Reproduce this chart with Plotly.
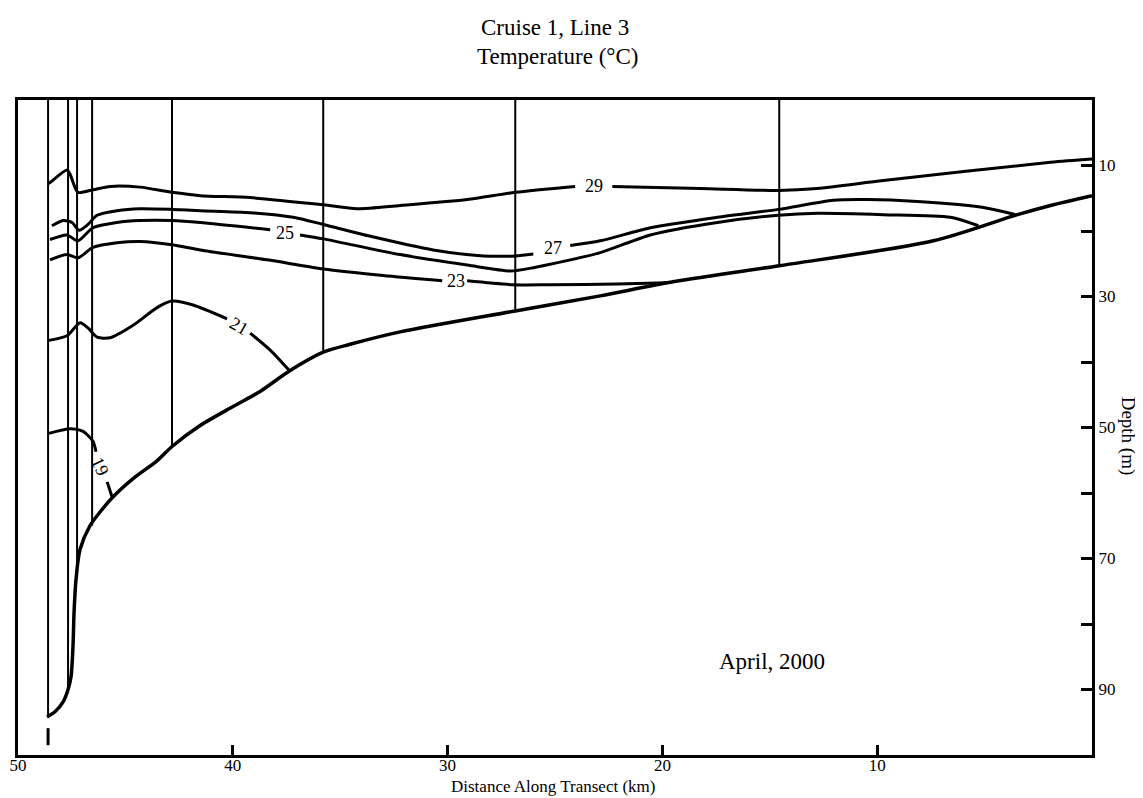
import plotly.graph_objects as go

# ---- data (km along transect, depth in m) ----
station_km = [48.60, 47.67, 47.25, 46.55, 42.83, 35.79, 26.85, 14.56]
station_bottom_m = [94.2, 90.0, 73.0, 65.0, 52.9, 38.5, 32.2, 25.3]

stub_km = [48.60, 48.60]
stub_m = [95.9, 98.5]

bottom_km = [48.65, 48.28, 47.90, 47.67, 47.53, 47.44, 47.39, 47.30, 47.11, 46.65,
             46.18, 45.58, 44.64, 43.53, 42.83, 41.52, 39.99, 38.73, 37.33, 35.79,
             34.54, 32.21, 26.85, 22.89, 19.77, 14.56, 7.38, 3.47, 1.93, 0.0]
bottom_m = [94.2, 93.4, 91.9, 90.0, 88.0, 83.4, 78.2, 73.2, 68.6, 65.0,
            62.9, 60.6, 57.8, 55.1, 52.9, 49.7, 46.8, 44.5, 41.3, 38.5,
            37.3, 35.4, 32.2, 29.9, 27.9, 25.3, 21.5, 17.5, 16.1, 14.6]

iso29_km = [48.60, 48.51, 47.72, 47.58, 47.21, 46.51, 45.71, 44.32, 42.83, 41.52, 39.19,
            35.79, 34.21, 32.21, 29.09, 26.85, 24.06, None,
            22.33, 18.23, 14.60, 12.79, 9.71, 1.93, 0.0]
iso29_m = [12.8, 12.6, 10.7, 11.3, 14.1, 13.7, 13.2, 13.3, 14.1, 14.6, 14.9,
           16.0, 16.6, 16.1, 15.2, 14.1, 13.2, None,
           13.2, 13.5, 13.8, 13.5, 12.3, 9.5, 9.0]

iso27_km = [48.42, 47.90, 47.48, 47.16, 46.74, 46.32, 45.39, 44.32, 42.83, 41.52, 39.19,
            37.19, 35.79, 33.74, 30.67, 28.34, 26.85, 26.01, None,
            24.29, 22.89, 20.56, 17.44, 14.60, 12.04, 10.46, 8.13, 5.05, 3.56]
iso27_m = [19.2, 18.4, 18.7, 19.9, 19.0, 17.6, 16.9, 16.6, 16.7, 16.9, 17.2,
           17.9, 19.0, 20.7, 22.9, 23.8, 23.8, 23.5, None,
           22.2, 21.5, 19.5, 17.9, 16.7, 15.3, 15.2, 15.5, 16.4, 17.5]

iso25_km = [48.51, 47.72, 47.21, 46.51, 45.39, 44.32, 42.83, 41.52, 38.26, None,
            36.87, 35.79, 32.21, 29.09, 27.08, 26.01, 22.89, 20.56, 17.44, 14.60,
            12.79, 9.71, 6.59, 5.29]
iso25_m = [21.3, 20.6, 21.5, 19.5, 18.7, 18.4, 18.4, 18.7, 19.8, None,
           20.6, 21.2, 23.6, 25.2, 26.1, 25.6, 23.3, 20.6, 18.7, 17.6,
           17.3, 17.5, 17.9, 19.2]

iso23_km = [48.51, 47.72, 47.21, 46.51, 45.39, 44.32, 42.83, 41.52, 38.40, 35.79,
            33.00, 30.25, None, 29.09, 26.94, 25.22, 22.10, 19.77]
iso23_m = [24.4, 23.6, 24.1, 22.5, 21.8, 21.6, 22.1, 22.9, 24.4, 25.8,
           26.8, 27.6, None, 27.6, 28.2, 28.2, 28.1, 27.9]

iso21_km = [48.56, 47.72, 47.11, 46.74, 46.32, 45.71, 44.64, 43.53, 42.83, 41.85,
            40.27, None, 39.19, 38.26, 37.40]
iso21_m = [36.7, 36.0, 34.0, 34.8, 36.2, 36.3, 34.4, 31.7, 30.7, 31.3,
           33.4, None, 35.6, 38.2, 41.2]

iso19_km = [48.56, 47.58, 46.97, 46.51, 46.37, None, 45.85, 45.62]
iso19_m = [50.9, 50.2, 50.6, 52.1, 53.7, None, 58.3, 60.6]

label_text = ["29", "27", "25", "23", "21", "19"]
label_km = [23.20, 25.10, 37.56, 29.62, 39.72, 46.16]
label_m = [13.2, 22.6, 20.3, 27.6, 34.5, 56.0]
label_angle = [0, 0, 0, 0, 30, 65]

x_ticks = [50, 40, 30, 20, 10]
y_ticks = [10, 20, 30, 40, 50, 60, 70, 80, 90]
y_ticktext = ["10", "", "30", "", "50", "", "70", "", "90"]

FONT = "Liberation Serif"

fig = go.Figure()

# station lines
for km, bm in zip(station_km, station_bottom_m):
    fig.add_trace(go.Scatter(x=[km, km], y=[0, bm], mode="lines",
                             line=dict(color="black", width=2), showlegend=False,
                             hoverinfo="skip"))
fig.add_trace(go.Scatter(x=stub_km, y=stub_m, mode="lines",
                         line=dict(color="black", width=3), showlegend=False))

# bottom profile
fig.add_trace(go.Scatter(x=bottom_km, y=bottom_m, mode="lines",
                         line=dict(color="black", width=3.5, shape="spline", smoothing=0.8),
                         showlegend=False))

for xs, ys in [(iso29_km, iso29_m), (iso27_km, iso27_m), (iso25_km, iso25_m),
               (iso23_km, iso23_m), (iso21_km, iso21_m), (iso19_km, iso19_m)]:
    fig.add_trace(go.Scatter(x=xs, y=ys, mode="lines", connectgaps=False,
                             line=dict(color="black", width=3, shape="spline", smoothing=0.7),
                             showlegend=False))

for t, xk, ym, ang in zip(label_text, label_km, label_m, label_angle):
    fig.add_annotation(x=xk, y=ym, text=t, showarrow=False, textangle=ang,
                       font=dict(family=FONT, size=18, color="black"),
                       xanchor="center", yanchor="middle")

fig.add_annotation(x=14.88, y=85.7, text="April, 2000", showarrow=False,
                   font=dict(family=FONT, size=23, color="black"),
                   xanchor="center", yanchor="middle")

# titles
fig.add_annotation(x=0.5, y=1.111, xref="paper", yref="paper", text="Cruise 1, Line 3",
                   showarrow=False, font=dict(family=FONT, size=23, color="black"),
                   xanchor="center", yanchor="middle")
fig.add_annotation(x=0.502, y=1.067, xref="paper", yref="paper", text="Temperature (°C)",
                   showarrow=False, font=dict(family=FONT, size=23, color="black"),
                   xanchor="center", yanchor="middle")
# axis titles
fig.add_annotation(x=0.498, y=0, xref="paper", yref="paper", yshift=-31,
                   text="Distance Along Transect (km)", showarrow=False,
                   font=dict(family=FONT, size=17, color="black"),
                   xanchor="center", yanchor="middle")
fig.add_annotation(x=1.0335, y=0.486, xref="paper", yref="paper",
                   text="Depth (m)", showarrow=False, textangle=90,
                   font=dict(family=FONT, size=19, color="black"),
                   xanchor="center", yanchor="middle")

fig.update_xaxes(range=[50, 0], tickvals=x_ticks, ticks="inside", ticklen=10,
                 tickwidth=2.5, tickcolor="black", showline=True, linewidth=3,
                 linecolor="black", mirror=True, showgrid=False, zeroline=False,
                 automargin=False, ticklabelstandoff=-7,
                 tickfont=dict(family=FONT, size=17, color="black"))
fig.update_yaxes(range=[100, 0], side="right", tickvals=y_ticks, ticktext=y_ticktext,
                 ticks="inside", ticklen=11, tickwidth=3, tickcolor="black",
                 showline=True, linewidth=3, linecolor="black", mirror=True,
                 showgrid=False, zeroline=False, automargin=False,
                 tickfont=dict(family=FONT, size=17, color="black"))

# the page adds an 8px body margin, so the figure is sized and offset to compensate
fig.update_layout(width=1135, height=790, margin=dict(l=10, r=51, t=92, b=43),
                  plot_bgcolor="white", paper_bgcolor="white", showlegend=False)

fig.write_html("out.html")
